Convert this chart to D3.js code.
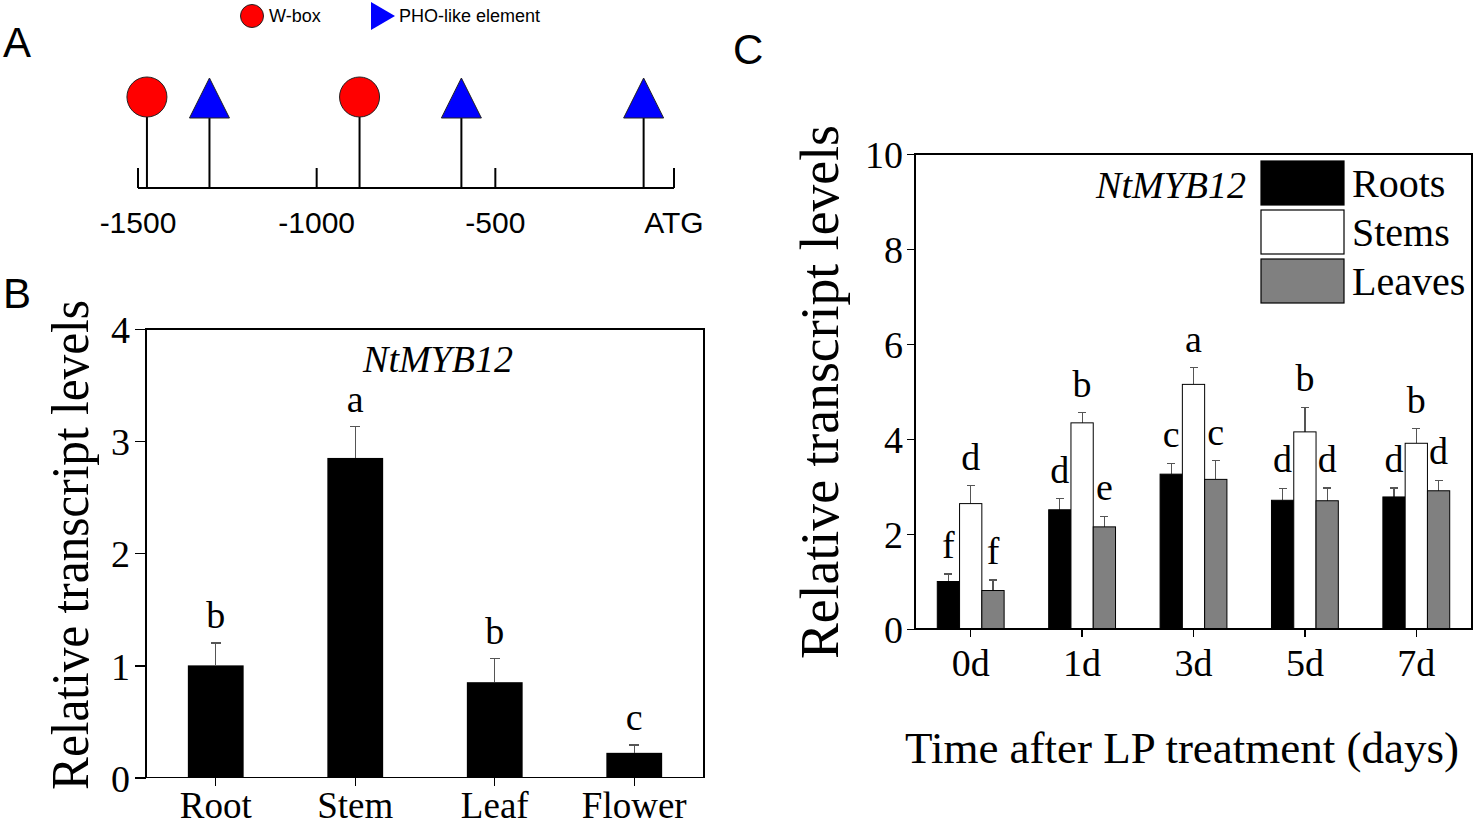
<!DOCTYPE html>
<html>
<head>
    <title>NtMYB12 promoter and transcript levels - D3.js</title>
    <script src="https://d3js.org/d3.v7.min.js"></script>
    <style>
        body { margin: 0; background: #fff; }
        svg { display: block; }
        .serif { font-family: "Liberation Serif", "Times New Roman", serif; }
        .sans { font-family: "Liberation Sans", Arial, sans-serif; }
        .axis path, .axis line { stroke: #000; stroke-width: 1.3; shape-rendering: crispEdges; }
        .axis text { font-family: "Liberation Serif", "Times New Roman", serif; font-size: 38px; fill: #000; }
        .frame { fill: none; stroke: #000; stroke-width: 1.3; shape-rendering: crispEdges; }
        .err { stroke: #555; stroke-width: 1.2; shape-rendering: crispEdges; }
        .letter { font-family: "Liberation Serif", "Times New Roman", serif; font-size: 38px; text-anchor: middle; }
    </style>
</head>
<body>
<div id="chart"></div>
<script>
    // Panel A: promoter elements (bp upstream of ATG)
    const promoterTicks = [-1500, -1000, -500, 0];
    const promoterTickLabels = ["-1500", "-1000", "-500", "ATG"];
    const wboxPos = [-1475, -880];
    const phoPos = [-1300, -595, -85];

    // Panel B: expression by tissue
    const tissues = ["Root", "Stem", "Leaf", "Flower"];
    const tissueMeans = [1.0, 2.85, 0.85, 0.22];
    const tissueErr = [0.20, 0.28, 0.21, 0.07];
    const tissueLetters = ["b", "a", "b", "c"];
    const tissueTicks = [0, 1, 2, 3, 4];

    // Panel C: time course after LP treatment
    const days = ["0d", "1d", "3d", "5d", "7d"];
    const organs = ["Roots", "Stems", "Leaves"];
    const organColors = ["#000000", "#ffffff", "#808080"];
    const rootsMean = [1.0, 2.51, 3.26, 2.71, 2.78];
    const rootsErr = [0.16, 0.23, 0.23, 0.25, 0.19];
    const rootsLetters = ["f", "d", "c", "d", "d"];
    const stemsMean = [2.64, 4.34, 5.15, 4.15, 3.91];
    const stemsErr = [0.38, 0.21, 0.35, 0.52, 0.31];
    const stemsLetters = ["d", "b", "a", "b", "b"];
    const leavesMean = [0.81, 2.15, 3.15, 2.70, 2.91];
    const leavesErr = [0.22, 0.22, 0.39, 0.27, 0.22];
    const leavesLetters = ["f", "e", "c", "d", "d"];
    const timeTicks = [0, 2, 4, 6, 8, 10];

    const svg = d3.select("#chart").append("svg")
        .attr("width", 1476).attr("height", 826);

    // panel letters
    svg.append("text").attr("class", "sans").attr("x", 3).attr("y", 57).attr("font-size", 42).text("A");
    svg.append("text").attr("class", "sans").attr("x", 3).attr("y", 308).attr("font-size", 42).text("B");
    svg.append("text").attr("class", "sans").attr("x", 733).attr("y", 64).attr("font-size", 42).text("C");

    // ---------- Panel A ----------
    const xA = d3.scaleLinear().domain([-1500, 0]).range([138, 674]);
    const baseY = 188;
    const gA = svg.append("g");

    gA.append("line").attr("x1", xA(-1500)).attr("x2", xA(0))
        .attr("y1", baseY).attr("y2", baseY).attr("stroke", "#000").attr("stroke-width", 2);
    gA.selectAll(".ptick").data(promoterTicks).enter().append("line")
        .attr("x1", d => xA(d)).attr("x2", d => xA(d))
        .attr("y1", baseY).attr("y2", baseY - 20)
        .attr("stroke", "#000").attr("stroke-width", 2);
    gA.selectAll(".plabel").data(promoterTicks).enter().append("text")
        .attr("class", "sans").attr("font-size", 30).attr("text-anchor", "middle")
        .attr("x", d => xA(d)).attr("y", 233)
        .text((d, i) => promoterTickLabels[i]);

    // stems
    gA.selectAll(".stem").data(wboxPos.concat(phoPos)).enter().append("line")
        .attr("x1", d => xA(d)).attr("x2", d => xA(d))
        .attr("y1", baseY).attr("y2", 117)
        .attr("stroke", "#000").attr("stroke-width", 2);
    gA.selectAll(".wbox").data(wboxPos).enter().append("circle")
        .attr("cx", d => xA(d)).attr("cy", 97).attr("r", 20)
        .attr("fill", "#ff0000").attr("stroke", "#222").attr("stroke-width", 1);
    gA.selectAll(".pho").data(phoPos).enter().append("path")
        .attr("d", d => `M${xA(d) - 20},118 L${xA(d) + 20},118 L${xA(d)},78 Z`)
        .attr("fill", "#0000ff").attr("stroke", "#222").attr("stroke-width", 1);

    // legend
    gA.append("circle").attr("cx", 252).attr("cy", 16).attr("r", 11.5)
        .attr("fill", "#ff0000").attr("stroke", "#222").attr("stroke-width", 1);
    gA.append("text").attr("class", "sans").attr("font-size", 18).attr("x", 269).attr("y", 22).text("W-box");
    gA.append("path").attr("d", "M371,2 L371,30 L395,16 Z").attr("fill", "#0000ff");
    gA.append("text").attr("class", "sans").attr("font-size", 18).attr("x", 399).attr("y", 22).text("PHO-like element");

    // ---------- Panel B ----------
    const xB = d3.scaleBand().domain(tissues).range([146, 704]).paddingInner(0.6).paddingOuter(0.3);
    const yB = d3.scaleLinear().domain([0, 4]).range([777.5, 329]);
    const gB = svg.append("g");

    gB.append("rect").attr("class", "frame")
        .attr("x", 146).attr("y", yB(4)).attr("width", 704 - 146).attr("height", yB(0) - yB(4));

    gB.selectAll(".bar").data(tissues).enter().append("rect")
        .attr("x", d => xB(d)).attr("width", xB.bandwidth())
        .attr("y", (d, i) => yB(tissueMeans[i]))
        .attr("height", (d, i) => yB(0) - yB(tissueMeans[i]))
        .attr("fill", "#000");
    gB.selectAll(".errv").data(tissues).enter().append("line").attr("class", "err")
        .attr("x1", d => xB(d) + xB.bandwidth() / 2).attr("x2", d => xB(d) + xB.bandwidth() / 2)
        .attr("y1", (d, i) => yB(tissueMeans[i]))
        .attr("y2", (d, i) => yB(tissueMeans[i] + tissueErr[i]));
    gB.selectAll(".errc").data(tissues).enter().append("line").attr("class", "err")
        .attr("x1", d => xB(d) + xB.bandwidth() / 2 - 5).attr("x2", d => xB(d) + xB.bandwidth() / 2 + 5)
        .attr("y1", (d, i) => yB(tissueMeans[i] + tissueErr[i]))
        .attr("y2", (d, i) => yB(tissueMeans[i] + tissueErr[i]));
    gB.selectAll(".lt").data(tissues).enter().append("text").attr("class", "letter")
        .attr("x", d => xB(d) + xB.bandwidth() / 2)
        .attr("y", (d, i) => yB(tissueMeans[i] + tissueErr[i]) - 15)
        .text((d, i) => tissueLetters[i]);

    gB.append("g").attr("class", "axis").attr("transform", `translate(146,0)`)
        .call(d3.axisLeft(yB).tickValues(tissueTicks).tickFormat(d3.format("d"))
            .tickSize(11).tickSizeOuter(0).tickPadding(5))
        .call(g => g.select(".domain").remove())
        .selectAll("text").attr("dy", "0.36em");
    gB.append("g").attr("class", "axis").attr("transform", `translate(0,${yB(0)})`)
        .call(d3.axisBottom(xB).tickSize(8).tickSizeOuter(0).tickPadding(6))
        .call(g => g.select(".domain").remove())
        .selectAll("text").attr("dy", "0.71em").style("font-size", "37px");

    gB.append("text").attr("class", "serif").attr("font-size", 38).attr("font-style", "italic")
        .attr("text-anchor", "middle").attr("x", 438).attr("y", 372).text("NtMYB12");
    gB.append("text").attr("class", "serif").attr("font-size", 52)
        .attr("text-anchor", "middle")
        .attr("transform", "translate(88,545) rotate(-90)")
        .attr("textLength", 490).attr("lengthAdjust", "spacingAndGlyphs")
        .text("Relative transcript levels");

    // ---------- Panel C ----------
    const xC = d3.scaleBand().domain(days).range([915, 1472]).paddingInner(0.4).paddingOuter(0.2);
    const xInner = d3.scaleBand().domain(organs).range([0, xC.bandwidth()]);
    const yC = d3.scaleLinear().domain([0, 10]).range([629, 154]);
    const colorC = d3.scaleOrdinal().domain(organs).range(organColors);
    const gC = svg.append("g");

    const seriesC = [
        { name: "Roots", mean: rootsMean, err: rootsErr, letters: rootsLetters },
        { name: "Stems", mean: stemsMean, err: stemsErr, letters: stemsLetters },
        { name: "Leaves", mean: leavesMean, err: leavesErr, letters: leavesLetters }
    ];
    const barsC = [];
    seriesC.forEach(s => {
        days.forEach((d, i) => {
            barsC.push({ day: d, organ: s.name, mean: s.mean[i], err: s.err[i], letter: s.letters[i] });
        });
    });
    const cx = d => xC(d.day) + xInner(d.organ) + xInner.bandwidth() / 2;

    gC.selectAll(".errv").data(barsC).enter().append("line").attr("class", "err")
        .attr("x1", cx).attr("x2", cx)
        .attr("y1", d => yC(d.mean)).attr("y2", d => yC(d.mean + d.err));
    gC.selectAll(".errc").data(barsC).enter().append("line").attr("class", "err")
        .attr("x1", d => cx(d) - 4).attr("x2", d => cx(d) + 4)
        .attr("y1", d => yC(d.mean + d.err)).attr("y2", d => yC(d.mean + d.err));
    gC.selectAll(".bar").data(barsC).enter().append("rect")
        .attr("x", d => xC(d.day) + xInner(d.organ)).attr("width", xInner.bandwidth())
        .attr("y", d => yC(d.mean)).attr("height", d => yC(0) - yC(d.mean))
        .attr("fill", d => colorC(d.organ)).attr("stroke", "#000").attr("stroke-width", 1);
    gC.selectAll(".lt").data(barsC).enter().append("text").attr("class", "letter")
        .attr("x", cx).attr("y", d => yC(d.mean + d.err) - 16)
        .text(d => d.letter);

    gC.append("rect").attr("class", "frame")
        .attr("x", 915).attr("y", yC(10)).attr("width", 1472 - 915).attr("height", yC(0) - yC(10));

    gC.append("g").attr("class", "axis").attr("transform", "translate(915,0)")
        .call(d3.axisLeft(yC).tickValues(timeTicks).tickFormat(d3.format("d"))
            .tickSize(8).tickSizeOuter(0).tickPadding(4))
        .call(g => g.select(".domain").remove())
        .selectAll("text").attr("dy", "0.36em");
    gC.append("g").attr("class", "axis").attr("transform", `translate(0,${yC(0)})`)
        .call(d3.axisBottom(xC).tickSize(8).tickSizeOuter(0).tickPadding(12))
        .call(g => g.select(".domain").remove())
        .selectAll("text").attr("dy", "0.71em");

    // legend
    const legC = gC.append("g");
    organs.forEach((o, i) => {
        legC.append("rect").attr("x", 1261).attr("y", 161 + i * 49).attr("width", 83).attr("height", 44)
            .attr("fill", colorC(o)).attr("stroke", "#000").attr("stroke-width", 1.2);
        legC.append("text").attr("class", "serif").attr("font-size", 40)
            .attr("x", 1352).attr("y", 197 + i * 49).text(o);
    });
    gC.append("text").attr("class", "serif").attr("font-size", 38).attr("font-style", "italic")
        .attr("text-anchor", "end").attr("x", 1246).attr("y", 198).text("NtMYB12");

    gC.append("text").attr("class", "serif").attr("font-size", 54)
        .attr("text-anchor", "middle")
        .attr("transform", "translate(838,392) rotate(-90)")
        .attr("textLength", 534).attr("lengthAdjust", "spacingAndGlyphs")
        .text("Relative transcript levels");
    gC.append("text").attr("class", "serif").attr("font-size", 45)
        .attr("text-anchor", "middle").attr("x", 1182).attr("y", 763)
        .text("Time after LP treatment (days)");
</script>
</body>
</html>
